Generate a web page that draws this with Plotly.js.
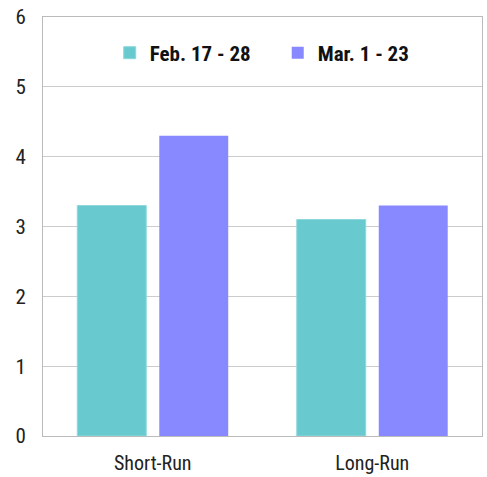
<!DOCTYPE html>
<html><head><meta charset="utf-8">
<script src="https://cdn.plot.ly/plotly-3.0.1.min.js"></script>
<style>html,body{margin:0;padding:0;background:#fff}#chart{width:487px;height:477px}</style>
</head><body><div id="chart"></div>
<script>
const categories = ["Short-Run", "Long-Run"];
const seriesNames = ["Feb. 17 - 28", "Mar. 1 - 23"];
const febValues = [3.3, 3.1];
const marValues = [4.3, 3.3];
const yTicks = [0, 1, 2, 3, 4, 5, 6];

const FONT = "'Liberation Sans Narrow', 'Arial Narrow', 'Roboto Condensed', 'DejaVu Sans Condensed', sans-serif";

const traces = [
  {type: "bar", name: seriesNames[0], x: categories, y: febValues,
   marker: {color: "#68C9CE", line: {color: "#8ED8DB", width: 1}}},
  {type: "bar", name: seriesNames[1], x: categories, y: marValues,
   marker: {color: "#8888FF", line: {width: 0}}}
];

const layout = {
  width: 487, height: 477,
  margin: {l: 43, r: 5, t: 17, b: 41},
  paper_bgcolor: "#fff", plot_bgcolor: "#fff",
  font: {family: FONT, color: "#222", size: 20},
  barmode: "group", bargap: 0.253, bargroupgap: 0.159,
  showlegend: true,
  legend: {orientation: "h", x: 0.152, xanchor: "left", y: 0.914, yanchor: "middle",
           font: {family: FONT, size: 21, color: "#111", weight: "bold"},
           entrywidth: 123, entrywidthmode: "pixels",
           traceorder: "normal", bgcolor: "rgba(0,0,0,0)"},
  xaxis: {type: "category", showgrid: false, showline: true, linecolor: "#BBBBBB", linewidth: 1,
          mirror: true, ticks: "", ticklabelstandoff: 9, tickfont: {family: FONT, size: 20, color: "#222"}},
  yaxis: {range: [0, 6], tickvals: yTicks, ticktext: yTicks.map(String), showgrid: true,
          gridcolor: "#CCCCCC", gridwidth: 1, showline: true, linecolor: "#BBBBBB", linewidth: 1,
          mirror: true, zeroline: false, ticks: "", ticklabelstandoff: 12,
          tickfont: {family: FONT, size: 21, color: "#222"}}
};

Plotly.newPlot("chart", traces, layout, {displayModeBar: false, staticPlot: true});
</script></body></html>
